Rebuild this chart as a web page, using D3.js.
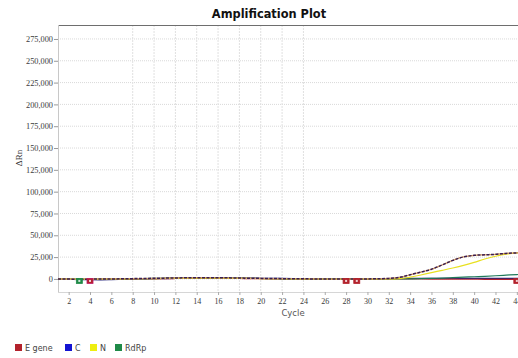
<!DOCTYPE html>
<html>
<head>
<meta charset="utf-8">
<script src="https://cdn.jsdelivr.net/npm/d3@7"></script>
<style>
  html, body { margin: 0; padding: 0; background: #fff; }
  svg { display: block; }
</style>
</head>
<body>
<div id="chart"></div>
<script>
// ---------------- data ----------------
const cycles = [1,2,3,4,5,6,7,8,9,10,11,12,13,14,15,16,17,18,19,20,21,22,23,24,25,26,27,28,29,30,31,32,33,34,35,36,37,38,39,40,41,42,43,44,45];
const xTickValues = [2,4,6,8,10,12,14,16,18,20,22,24,26,28,30,32,34,36,38,40,42,44];
const xGridValues = [8,10,12,14,16,18,20,22,24];
const yTickValues = [0,25000,50000,75000,100000,125000,150000,175000,200000,225000,250000,275000];

const legendNames = ["E gene", "C", "N", "RdRp"];
const legendColors = ["#b3222c", "#1414d2", "#eeee10", "#1f8a48"];

// E gene, amplifying well
const eGeneAmp = [0,-200,-400,-300,-100,0,100,300,500,700,900,1100,1300,1400,1400,1300,1200,1000,800,600,400,300,200,100,0,-100,-200,-200,-100,0,200,600,1700,4800,7800,11100,16000,21200,25200,27000,27600,28200,29200,29800,30100];
// E gene, baseline well
const eGeneBase = [0,-400,-600,-500,-300,-100,0,100,200,300,300,400,500,600,600,600,500,400,300,200,100,0,-100,-200,-300,-400,-500,-500,-400,-300,-200,-100,0,0,-100,-200,-300,-300,-400,-400,-500,-500,-500,-600,-600];
// C, baseline well
const cBase = [0,-300,-700,-900,-1000,-800,-500,-200,0,200,400,600,800,1000,1100,1100,1000,900,800,700,600,500,400,300,200,100,0,0,100,200,300,400,500,600,600,600,600,600,600,600,600,600,600,600,600];
// N, amplifying well
const nAmp = [0,-100,-200,-200,-100,0,100,200,300,400,500,600,700,800,800,800,700,600,500,400,300,200,100,0,-100,-100,-200,-200,-100,0,100,100,300,2000,4500,7200,9800,12500,15500,19000,22800,26000,28500,29800,30400];
// RdRp well
const rdrp = [0,-200,-500,-600,-400,-200,0,200,400,600,800,1000,1200,1300,1300,1200,1100,900,700,500,300,100,0,-100,-200,-200,-300,-300,-200,-100,0,0,0,100,300,600,1000,1500,2000,2500,3000,3600,4300,5000,5600];

// threshold markers
const markerCycles = [3, 4, 28, 29, 44];
const markerValues = [-2300, -2300, -2300, -2300, -2300];
const markerSeries = [3, 0, 0, 0, 0];

// ---------------- drawing ----------------
const W = 518, H = 358;
const svg = d3.select("#chart").append("svg").attr("width", W).attr("height", H)
  .style("font-family", "'DejaVu Sans', sans-serif");
svg.append("rect").attr("width", W).attr("height", H).attr("fill", "#fff");

const x = d3.scaleLinear().domain([1, 45]).range([58, 527.5]);
const y = d3.scaleLinear().domain([-15000, 291000]).range([292, 25]);
const [x0, x1] = x.range();
const [yB, yT] = y.range();

// title
svg.append("text").attr("x", 269).attr("y", 18).attr("text-anchor", "middle")
  .style("font-family", "'DejaVu Sans', sans-serif").style("font-weight", "bold")
  .style("font-size", "11.4px").attr("fill", "#111").text("Amplification Plot");

// grid
const grid = svg.append("g");
grid.selectAll("line.h").data(yTickValues).join("line")
  .attr("x1", x0).attr("x2", x1).attr("y1", d => y(d)).attr("y2", d => y(d))
  .attr("stroke", "#d9d9d9").attr("stroke-width", 1).attr("stroke-dasharray", "1,1");
grid.selectAll("line.v").data(xGridValues).join("line")
  .attr("x1", d => x(d)).attr("x2", d => x(d)).attr("y1", yT).attr("y2", yB)
  .attr("stroke", "#e0e0e0").attr("stroke-width", 1).attr("stroke-dasharray", "2,1");

// frame
svg.append("line").attr("x1", x0).attr("x2", x1).attr("y1", yT + 0.5).attr("y2", yT + 0.5)
  .attr("stroke", "#6e6e6e").attr("stroke-width", 1.2);
svg.append("line").attr("x1", x0 + 0.5).attr("x2", x0 + 0.5).attr("y1", yT).attr("y2", yB)
  .attr("stroke", "#c8c8c8");
svg.append("line").attr("x1", x0).attr("x2", x1).attr("y1", yB + 0.5).attr("y2", yB + 0.5)
  .attr("stroke", "#d6d6d6");

// axes
const yAxis = svg.append("g").attr("transform", `translate(${x0},0)`)
  .call(d3.axisLeft(y).tickValues(yTickValues).tickFormat(d3.format(",")).tickSize(4).tickPadding(1));
yAxis.select(".domain").remove();
yAxis.selectAll(".tick line").attr("stroke", "#999");
yAxis.selectAll("text").style("font-family", "'Liberation Serif', serif").style("font-size", "8.3px").attr("fill", "#3a3a3a");

const xAxis = svg.append("g").attr("transform", `translate(0,${yB})`)
  .call(d3.axisBottom(x).tickValues(xTickValues).tickFormat(d3.format("d")).tickSize(3).tickPadding(3));
xAxis.select(".domain").remove();
xAxis.selectAll(".tick line").attr("stroke", "#aaa");
xAxis.selectAll("text").style("font-family", "'Liberation Serif', serif").style("font-size", "8px").attr("fill", "#3a3a3a");

// axis titles
svg.append("text").attr("transform", "translate(22,158) rotate(-90)").attr("text-anchor", "middle")
  .style("font-family", "'Liberation Serif', serif").style("font-size", "9px").attr("fill", "#333").text("ΔRn");
svg.append("text").attr("x", 293).attr("y", 316).attr("text-anchor", "middle")
  .style("font-size", "8.5px").attr("fill", "#555").text("Cycle");

// plot lines
svg.append("clipPath").attr("id", "clip").append("rect")
  .attr("x", x0).attr("y", yT).attr("width", x1 - x0).attr("height", yB - yT);
const plot = svg.append("g").attr("clip-path", "url(#clip)");
const line = d3.line().x((d, i) => x(cycles[i])).y(d => y(d)).curve(d3.curveMonotoneX);

function drawSeries(values, color, width, dash) {
  const p = plot.append("path").datum(values).attr("d", line)
    .attr("fill", "none").attr("stroke", color).attr("stroke-width", width)
    .attr("stroke-linejoin", "round");
  if (dash) p.attr("stroke-dasharray", dash);
}
drawSeries(cBase, "#23237a", 1.3);
drawSeries(eGeneBase, legendColors[0], 1.1);
drawSeries(rdrp, "#1f7a5a", 1.2);
drawSeries(nAmp, "#e8e020", 1.2);
drawSeries(eGeneAmp, "#d8a060", 1.2);
drawSeries(eGeneAmp, "#3a1d52", 1.5, "3,1.5");

// markers
plot.selectAll("rect.mk").data(markerCycles).join("rect")
  .attr("x", d => x(d) - 3).attr("y", (d, i) => y(markerValues[i]) - 2.5)
  .attr("width", 6).attr("height", 5)
  .attr("fill", (d, i) => legendColors[markerSeries[i]])
  .attr("stroke", (d, i) => i === 1 ? "#c01868" : legendColors[markerSeries[i]]).attr("stroke-width", 0.8);
plot.selectAll("rect.mkc").data(markerCycles).join("rect")
  .attr("x", d => x(d) - 1).attr("y", (d, i) => y(markerValues[i]) - 1)
  .attr("width", 2).attr("height", 2).attr("fill", "#fff").attr("opacity", 0.8);

// legend
const lg = svg.append("g");
const legendX = [15, 65, 90, 115];
legendNames.forEach((name, i) => {
  lg.append("rect").attr("x", legendX[i]).attr("y", 344).attr("width", 7).attr("height", 7)
    .attr("fill", legendColors[i]);
  lg.append("text").attr("x", legendX[i] + 10).attr("y", 350.5)
    .style("font-size", "8px").attr("fill", "#444").text(name);
});
</script>
</body>
</html>
